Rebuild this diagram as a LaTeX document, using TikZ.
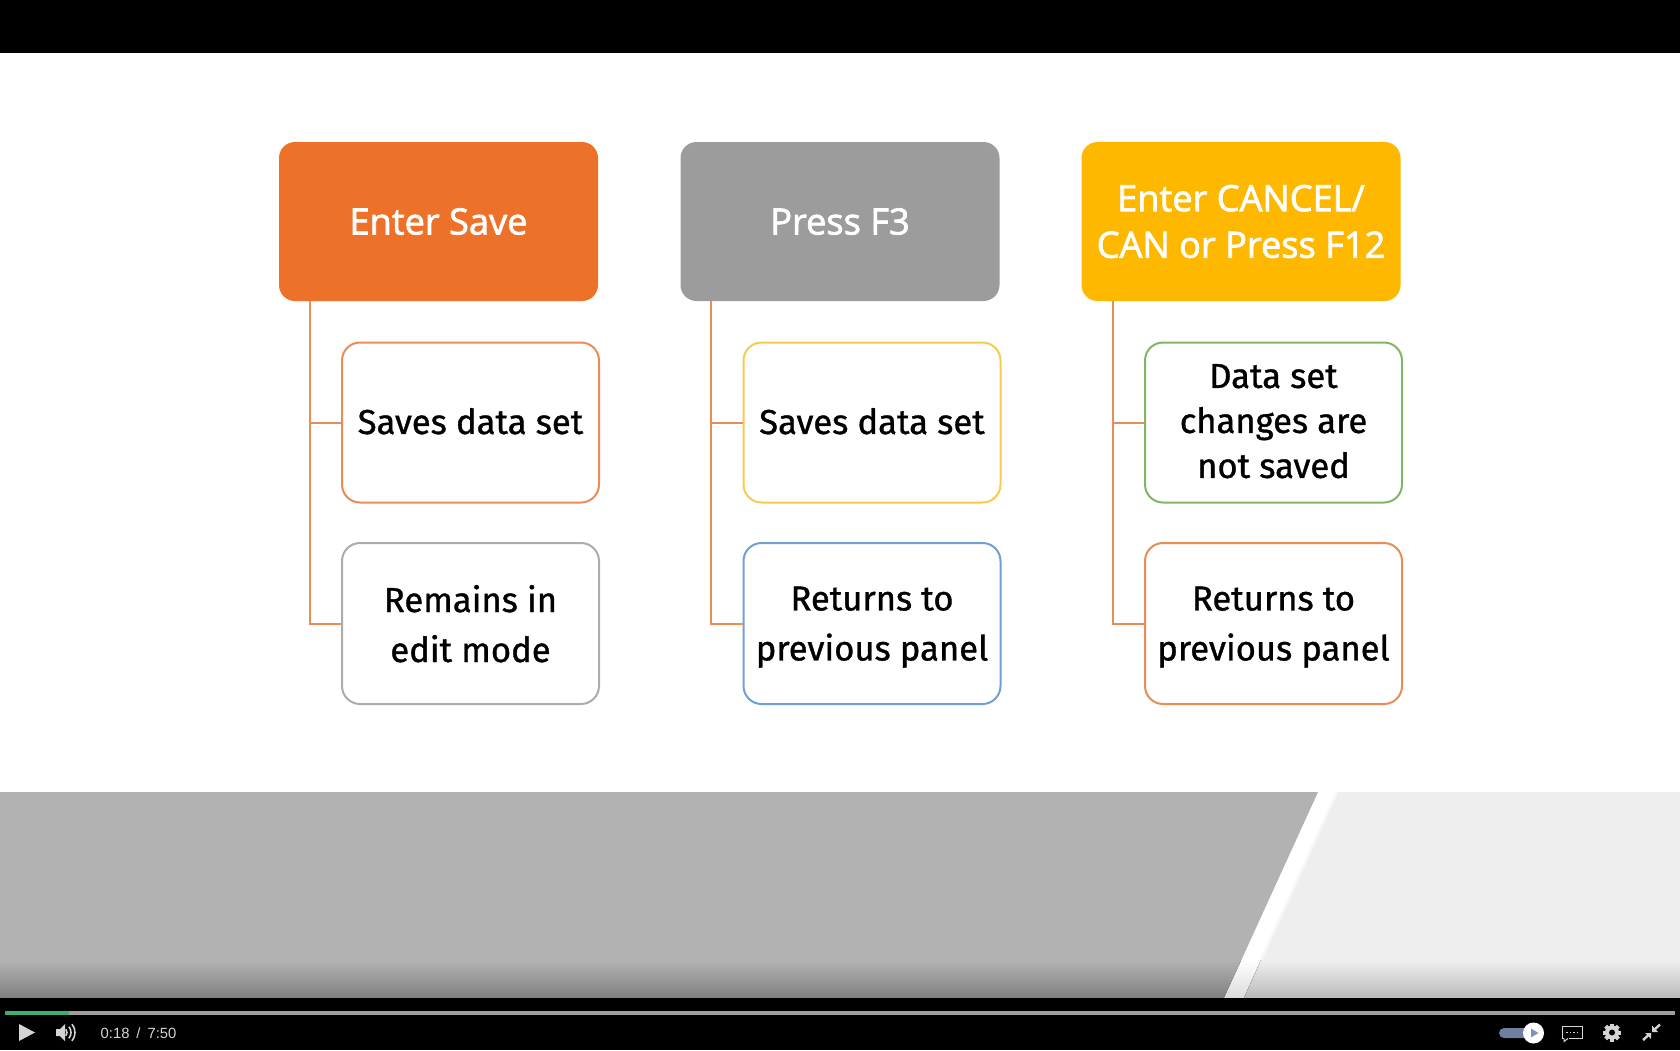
\documentclass[tikz,border=0pt]{standalone}
\usepackage{fontspec}
\setmainfont{Open Sans}[FakeBold=2.0]
\newfontfamily\plexlike{Fira Sans}[FakeBold=1.0]
\newfontfamily\uifont{Liberation Sans}
\usetikzlibrary{calc}
\definecolor{cOrange}{HTML}{ED7129}
\definecolor{cGray}{HTML}{9C9C9C}
\definecolor{cGold}{HTML}{FFB800}
\definecolor{cLine}{HTML}{E98C55}
\definecolor{cYel}{HTML}{F7CB4D}
\definecolor{cBlue}{HTML}{6F9FD3}
\definecolor{cGreen}{HTML}{85B366}
\definecolor{cSilver}{HTML}{ACACAC}
\definecolor{uigray}{HTML}{D4D4D4}
\definecolor{uislide}{HTML}{6E7F9F}
\definecolor{uitri}{HTML}{7F95B5}
\definecolor{uigreen}{HTML}{3DAE6F}
\tikzset{
  x=1pt,y=-1pt,
  headbox/.style={rounded corners=16pt,minimum width=319pt,minimum height=159pt,text=white,align=center,inner sep=0pt,
     font=\fontsize{36.2}{46.5}\selectfont},
  childbox/.style={draw,line width=2pt,rounded corners=18pt,fill=white,minimum width=257pt,minimum height=160pt,text=black,align=center,inner sep=0pt,text depth=3pt,
     font=\plexlike\fontsize{34.6}{45}\selectfont},
  twoline/.style={minimum height=161pt,text depth=0pt,font=\plexlike\fontsize{34.6}{50}\selectfont},
  conn/.style={draw=cLine,line width=2pt},
  ui/.style={fill=uigray,draw=none},
  uiarc/.style={draw=uigray,line width=1.6pt},
  uistroke/.style={draw=uigray,line width=2.4pt},
}
\begin{document}
\begin{tikzpicture}
\useasboundingbox (0,0) rectangle (1680,1050);
\fill[white] (0,0) rectangle (1680,1050);
\fill[black] (0,0) rectangle (1680,53);
% lower band
\fill[black!30!white] (0,792) -- (1318,792) -- (1224,998) -- (0,998) -- cycle;
\fill[top color=black!30!white,bottom color=black!50!white,draw=none] (0,960) -- (1241.4,960) -- (1224,998) -- (0,998) -- cycle;
\fill[top color=white,bottom color=black!14!white,draw=none] (1241.4,960) -- (1261,960) -- (1244,998) -- (1224,998) -- cycle;
\fill[black!6.5!white] (1337,792) -- (1680,792) -- (1680,998) -- (1244,998) -- cycle;
\fill[top color=black!6.5!white,bottom color=black!27!white,draw=none] (1261,960) -- (1680,960) -- (1680,998) -- (1244,998) -- cycle;
\draw[black!3,line width=2.5pt] (1337,792) -- (1261,960);
% player bar
\fill[black] (0,998) rectangle (1680,1050);
\fill[black!38!white] (5,1011) rectangle (1675,1014.5);
\fill[uigreen] (5,1011) rectangle (69,1014.5);
% headers
\node[headbox,fill=cOrange] (h1) at (438.5,221.5) {Enter Save};
\node[headbox,fill=cGray] (h2) at (840,221.5) {Press F3};
\node[headbox,fill=cGold] (h3) at (1241,221.5) {Enter CANCEL/\\CAN or Press F12};
% children
\node[childbox,draw=cLine] (a1) at (470.5,422.5) {Saves data set};
\node[childbox,twoline,draw=cSilver] (a2) at (470.5,623.5) {Remains in\\edit mode};
\node[childbox,draw=cYel] (b1) at (872,422.5) {Saves data set};
\node[childbox,twoline,draw=cBlue] (b2) at (872,623.5) {Returns to\\previous panel};
\node[childbox,draw=cGreen] (c1) at (1273.5,422.5) {Data set\\changes are\\not saved};
\node[childbox,twoline,draw=cLine] (c2) at (1273.5,623.5) {Returns to\\previous panel};
% connectors
\coordinate (s1) at ($(h1.south west)+(31,0)$);
\coordinate (s2) at ($(h2.south west)+(31,0)$);
\coordinate (s3) at ($(h3.south west)+(32,0)$);
\draw[conn] (s1) |- (a1.west);
\draw[conn] (s1) |- (a2.west);
\draw[conn] (s2) |- (b1.west);
\draw[conn] (s2) |- (b2.west);
\draw[conn] (s3) |- (c1.west);
\draw[conn] (s3) |- (c2.west);
% player controls
\fill[ui] (19,1024) -- (35,1032.5) -- (19,1041) -- cycle;
\fill[ui] (56,1029) -- (60,1029) -- (65,1024) -- (65,1041) -- (60,1036) -- (56,1036) -- cycle;
\foreach \r in {5,9,13}{\draw[uiarc] (62,1032.5) ++(-40:\r) arc (-40:40:\r);}
\node[font=\uifont\fontsize{14.8}{16}\selectfont,text=uigray,inner sep=0pt,anchor=west] (time) at (100.5,1033) {0:18\hspace{7pt}/\hspace{7pt}7:50};
\fill[uislide,rounded corners=5pt] (1499,1028) rectangle (1540,1038);
\fill[white] (1533.5,1033) circle (10.5);
\fill[uitri] (1531,1028.5) -- (1538.5,1033) -- (1531,1037.5) -- cycle;
\draw[uigray,line width=1pt] (1562,1026.5) rectangle (1582,1038.5);
\fill[black] (1564,1037.5) rectangle (1568.5,1039.5);
\draw[uigray,line width=1pt] (1564,1038.5) -- (1564,1041.5) -- (1568,1038.5);
\foreach \xx in {1566,1569.5,1573,1576.5}{\fill[uigray] (\xx,1031.5) rectangle +(1.8,1.8);}
\fill[uigray] (1612,1032.5) circle (7);
\foreach \a in {0,45,...,315}{\fill[uigray,rotate around={\a:(1612,1032.5)}] (1610,1023.5) rectangle (1614,1029);}
\fill[black] (1612,1032.5) circle (3);
% minimise icon
\fill[ui] (1645,1033) -- (1651,1033) -- (1651,1039) -- cycle;
\draw[uistroke] (1643,1040) -- (1648,1035.5);
\fill[ui] (1652,1032) -- (1652,1025.5) -- (1658,1032) -- cycle;
\draw[uistroke] (1655,1029) -- (1660,1024.5);
\end{tikzpicture}
\end{document}
